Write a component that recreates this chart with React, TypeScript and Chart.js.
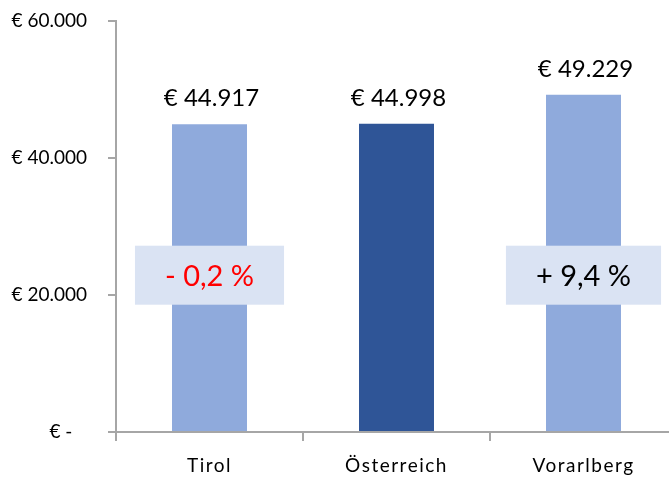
import React, { useEffect, useRef } from "react";
import { Chart, registerables } from "chart.js";

Chart.register(...registerables);

const categories = ["Tirol", "Österreich", "Vorarlberg"];
const incomeValues = [44917, 44998, 49229];
const valueLabels = ["€ 44.917", "€ 44.998", "€ 49.229"];
const changeLabels = ["- 0,2 %", "", "+ 9,4 %"];
const changeColors = ["#ff0000", "#000000", "#000000"];
const barColors = ["#8faadc", "#2f5597", "#8faadc"];
const yTicks = [0, 20000, 40000, 60000];
const yTickLabels = ["€ -   ", "€ 20.000", "€ 40.000", "€ 60.000"];

const FONT = "Lato";

const labelPlugin = {
  id: "customLabels",
  afterDraw(chart: any) {
    const ctx = chart.ctx;
    const meta = chart.getDatasetMeta(0);
    const area = chart.chartArea;
    const xScale = chart.scales.x;
    ctx.save();
    // value labels above bars
    ctx.font = `24px ${FONT}`;
    ctx.fillStyle = "#000000";
    ctx.textAlign = "center";
    ctx.textBaseline = "alphabetic";
    meta.data.forEach((bar: any, i: number) => {
      ctx.fillText(valueLabels[i], bar.x + 2, bar.y - 18);
    });
    // change boxes
    const boxCenterY = area.top + (area.bottom - area.top) * 0.6185;
    ctx.font = `29px ${FONT}`;
    meta.data.forEach((bar: any, i: number) => {
      const t = changeLabels[i];
      if (!t) return;
      const w = ctx.measureText(t).width + 60;
      const h = 59;
      ctx.fillStyle = "#dae3f3";
      ctx.fillRect(bar.x - w / 2, boxCenterY - h / 2, w, h);
      ctx.fillStyle = changeColors[i];
      ctx.textBaseline = "middle";
      ctx.fillText(t, bar.x, boxCenterY + 1);
    });
    // x category labels with letter spacing
    ctx.font = `19px ${FONT}`;
    ctx.fillStyle = "#000000";
    ctx.textBaseline = "alphabetic";
    (ctx as any).letterSpacing = "1.5px";
    categories.forEach((c, i) => {
      const x = xScale.getPixelForValue(i);
      ctx.fillText(c, x, 472);
    });
    ctx.restore();
  },
};

export default function App() {
  const ref = useRef<HTMLCanvasElement>(null);
  useEffect(() => {
    if (!ref.current) return;
    const chart = new Chart(ref.current, {
      type: "bar",
      data: {
        labels: categories,
        datasets: [
          {
            data: incomeValues,
            backgroundColor: barColors,
            borderWidth: 0,
            barPercentage: 0.401,
            categoryPercentage: 1,
          },
        ],
      },
      options: {
        responsive: false,
        animation: false,
        layout: { padding: { top: 21, right: 23, left: 0, bottom: 0 } },
        plugins: { legend: { display: false }, tooltip: { enabled: false } },
        scales: {
          x: {
            grid: {
              drawOnChartArea: false,
              drawTicks: true,
              tickLength: 9,
              color: "#a6a6a6",
              lineWidth: 2,
              offset: true,
            },
            border: { display: true, color: "#a6a6a6", width: 2 },
            ticks: { color: "rgba(0,0,0,0)", font: { family: FONT, size: 19 } },
            afterFit: (s: any) => {
              s.height = 45;
            },
          },
          y: {
            min: 0,
            max: 60000,
            afterBuildTicks: (s: any) => {
              s.ticks = yTicks.map((v) => ({ value: v }));
            },
            grid: {
              drawOnChartArea: false,
              drawTicks: true,
              tickLength: 8,
              color: "#a6a6a6",
              lineWidth: 2,
            },
            border: { display: true, color: "#a6a6a6", width: 2 },
            ticks: {
              color: "#000000",
              padding: 21,
              font: { family: FONT, size: 19 },
              callback: (_v: any, i: number) => yTickLabels[i],
            },
            afterFit: (s: any) => {
              s.width = 116;
              s.paddingTop = 0;
              s.paddingBottom = 0;
            },
          },
        },
      },
      plugins: [labelPlugin],
    });
    return () => chart.destroy();
  }, []);
  return (
    <div
      style={{
        position: "absolute",
        left: 0,
        top: 0,
        width: 669,
        height: 477,
        overflow: "hidden",
        background: "#ffffff",
      }}
    >
      <canvas ref={ref} width={700} height={477} style={{ width: 700, height: 477, display: "block" }} />
    </div>
  );
}
